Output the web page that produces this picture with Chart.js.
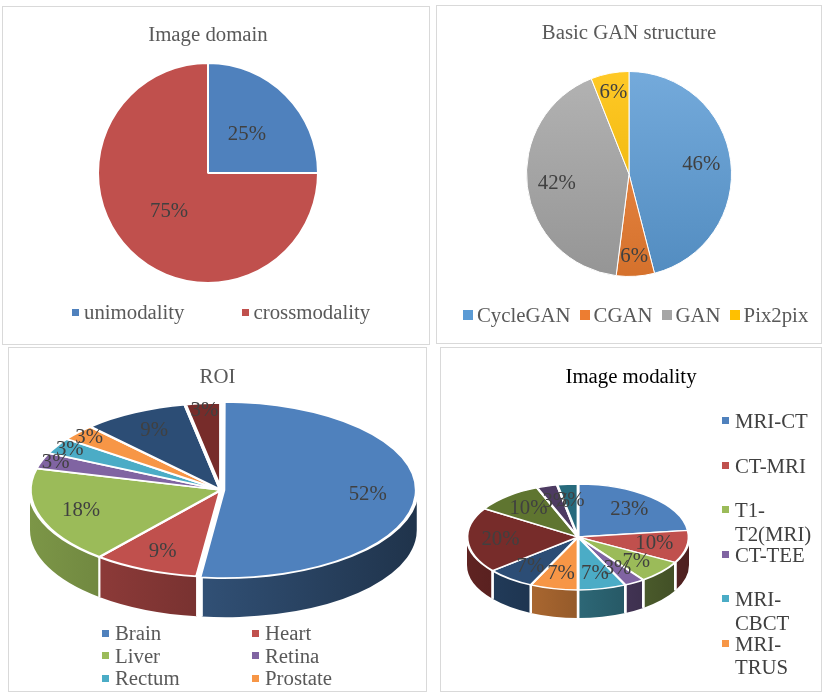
<!DOCTYPE html>
<html>
<head>
<meta charset="utf-8">
<script src="https://cdn.jsdelivr.net/npm/chart.js@4.4.0/dist/chart.umd.min.js"></script>
<style>
  body { margin: 0; background: #fff; width: 829px; height: 698px; position: relative; overflow: hidden;
         font-family: "Liberation Serif", "Times New Roman", serif; }
  .panel { position: absolute; background: #fff; outline: 1.5px solid #d9d9d9; outline-offset: -1.5px; }
  .panel canvas { position: absolute; left: 0; top: 0; }
  .legend { position: absolute; font-size: 20.8px; color: #595959; }
  .item { display: flex; align-items: center; white-space: nowrap; }
  .box { display: inline-block; flex: none; }
  #leg1 { left: 70px; top: 294px; display: flex; gap: 57px; }
  #leg1 .box { width: 7px; height: 7px; margin-right: 5px; }
  #leg2 { left: 27px; top: 298px; display: flex; gap: 9px; }
  #leg2 .box { width: 10px; height: 10px; margin-right: 4px; }
  #leg3 { left: 94px; top: 275px; display: grid; grid-template-columns: 150px 150px; line-height: 22.5px; }
  #leg3 .box { width: 7px; height: 7px; margin-right: 6px; }
  #leg4 { left: 282px; top: 62px; color: #404040; line-height: 23.5px; }
  #leg4 .item { height: 44.5px; align-items: flex-start; white-space: normal; }
  #leg4 .item span:last-child { width: 84px; }
  #leg4 .box { width: 7px; height: 7px; margin-right: 6px; margin-top: 8px; }
</style>
</head>
<body>
<div class="panel" style="left:2px; top:6px; width:428px; height:339px;">
  <canvas id="domain" width="428" height="339"></canvas>
  <div class="legend" id="leg1"></div>
</div>
<div class="panel" style="left:436px; top:5px; width:386px; height:339px;">
  <canvas id="gan" width="386" height="339"></canvas>
  <div class="legend" id="leg2"></div>
</div>
<div class="panel" style="left:8px; top:347px; width:419px; height:345px;">
  <canvas id="roi" width="419" height="345"></canvas>
  <div class="legend" id="leg3"></div>
</div>
<div class="panel" style="left:440px; top:347px; width:382px; height:345px;">
  <canvas id="modality" width="382" height="345"></canvas>
  <div class="legend" id="leg4"></div>
</div>
<script>
  // data (percent)
  const domainLabels = ["unimodality", "crossmodality"];
  const domainValues = [25, 75];

  const ganLabels = ["CycleGAN", "CGAN", "GAN", "Pix2pix"];
  const ganValues = [46, 6, 42, 6];

  // last two slices have no legend entry in the original
  const roiLabels = ["Brain", "Heart", "Liver", "Retina", "Rectum", "Prostate", "Other 1", "Other 2"];
  const roiValues = [52, 9, 18, 3, 3, 3, 9, 3];

  // last five slices have no legend entry in the original
  const modalityLabels = ["MRI-CT", "CT-MRI", "T1-T2(MRI)", "CT-TEE", "MRI-CBCT", "MRI-TRUS",
                          "Other 1", "Other 2", "Other 3", "Other 4", "Other 5"];
  const modalityValues = [23, 10, 7, 3, 7, 7, 7, 20, 10, 3, 3];

  const officeColors = ["#4F81BD", "#C0504D", "#9BBB59", "#8064A2", "#4BACC6", "#F79646",
                        "#2C4D75", "#772C2A", "#5F7530", "#4D3B62", "#276A7C"];
  const ganColors = ["#5B9BD5", "#ED7D31", "#A5A5A5", "#FFC000"];
  const serif = "Liberation Serif";
  const fontSize = 20.8;

  function rgb(hex) {
    const n = parseInt(hex.slice(1), 16);
    return [(n >> 16) & 255, (n >> 8) & 255, n & 255];
  }
  function shade(hex, f) {
    const c = rgb(hex).map(v => Math.round(v * f));
    return "rgb(" + c.join(",") + ")";
  }
  function tint(hex, f) {
    const c = rgb(hex).map(v => Math.round(v + (255 - v) * f));
    return "rgb(" + c.join(",") + ")";
  }

  // flattens the pie into an ellipse and adds the side walls
  const pie3d = {
    id: "pie3d",
    beforeDatasetsDraw(chart, args, o) {
      const ctx = chart.ctx;
      const meta = chart.getDatasetMeta(0);
      const first = meta.data[0];
      const R = first.outerRadius;
      const sx = o.rx / R, sy = o.ry / R;
      const colors = chart.data.datasets[0].backgroundColor;
      meta.data.forEach((arc, i) => {
        const s = arc.startAngle, e = arc.endAngle;
        const a1 = Math.max(s, 0), a2 = Math.min(e, Math.PI);
        if (a2 <= a1) return;
        const mid = (s + e) / 2;
        const off = (arc.options.offset || 0) / 4 * (2 - Math.sin(Math.min(Math.PI, e - s)));
        const cx = o.cx + Math.cos(mid) * off * sx;
        const cy = o.cy + Math.sin(mid) * off * sy;
        const g = ctx.createLinearGradient(o.cx - o.rx, 0, o.cx + o.rx, 0);
        g.addColorStop(0, shade(colors[i], o.light));
        g.addColorStop(1, shade(colors[i], o.dark));
        ctx.beginPath();
        ctx.ellipse(cx, cy, o.rx, o.ry, 0, a1, a2);
        ctx.ellipse(cx, cy + o.depth, o.rx, o.ry, 0, a2, a1, true);
        ctx.closePath();
        ctx.fillStyle = g;
        ctx.fill();
        ctx.strokeStyle = "#fff";
        ctx.lineWidth = o.seam;
        [[a1, s], [a2, e]].forEach(([a, edge]) => {
          if (a !== edge) return;
          const x = cx + Math.cos(a) * o.rx, y = cy + Math.sin(a) * o.ry;
          ctx.beginPath();
          ctx.moveTo(x, y);
          ctx.lineTo(x, y + o.depth);
          ctx.stroke();
        });
      });
      ctx.save();
      ctx.translate(o.cx, o.cy);
      ctx.scale(sx, sy);
      ctx.translate(-first.x, -first.y);
    },
    afterDatasetsDraw(chart) {
      chart.ctx.restore();
    }
  };

  // percentage labels inside the slices
  const pctLabels = {
    id: "pctLabels",
    afterDraw(chart, args, o) {
      const ctx = chart.ctx;
      const values = chart.data.datasets[0].data;
      const total = values.reduce((a, b) => a + b, 0);
      ctx.save();
      ctx.font = fontSize + "px '" + serif + "'";
      ctx.fillStyle = "#404040";
      ctx.textAlign = "center";
      ctx.textBaseline = "middle";
      chart.getDatasetMeta(0).data.forEach((arc, i) => {
        const share = values[i] / total;
        const f = share < o.smallLimit ? o.smallFrac : o.frac;
        const mid = (arc.startAngle + arc.endAngle) / 2;
        let x, y;
        if (o.tilt) {
          x = o.tilt.cx + Math.cos(mid) * f * o.tilt.rx;
          y = o.tilt.cy + Math.sin(mid) * f * o.tilt.ry;
        } else {
          x = arc.x + Math.cos(mid) * f * arc.outerRadius;
          y = arc.y + Math.sin(mid) * f * arc.outerRadius;
        }
        ctx.fillText(Math.round(share * 100) + "%", x, y);
      });
      ctx.restore();
    }
  };

  function titleOpts(text, color, top, bottom) {
    return {
      display: true, text: text, color: color,
      font: { family: serif, size: fontSize, weight: "normal" },
      padding: { top: top, bottom: bottom }
    };
  }

  function buildLegend(id, labels, colors, count) {
    const el = document.getElementById(id);
    labels.slice(0, count).forEach((name, i) => {
      const item = document.createElement("div");
      item.className = "item";
      const box = document.createElement("span");
      box.className = "box";
      box.style.background = colors[i];
      const text = document.createElement("span");
      text.textContent = name;
      item.append(box, text);
      el.append(item);
    });
  }

  const common = { responsive: false, animation: false, events: [] };

  new Chart("domain", {
    type: "pie",
    data: {
      labels: domainLabels,
      datasets: [{ data: domainValues, backgroundColor: officeColors.slice(0, 2),
                   borderColor: "#fff", borderWidth: 2, radius: 110 }]
    },
    options: Object.assign({}, common, {
      layout: { padding: { right: 16, bottom: 62 } },
      plugins: {
        legend: { display: false }, tooltip: { enabled: false },
        title: titleOpts("Image domain", "#595959", 17, 15),
        pctLabels: { frac: 0.5, smallFrac: 0.5, smallLimit: 0 }
      }
    }),
    plugins: [pctLabels]
  });

  function ganFill(c) {
    const col = ganColors[c.dataIndex];
    const area = c.chart.chartArea;
    if (!area) return col;
    const g = c.chart.ctx.createLinearGradient(0, area.top, 0, area.bottom);
    g.addColorStop(0, tint(col, 0.15));
    g.addColorStop(1, shade(col, 0.9));
    return g;
  }

  new Chart("gan", {
    type: "pie",
    data: {
      labels: ganLabels,
      datasets: [{ data: ganValues, backgroundColor: ganFill,
                   borderColor: "#fff", borderWidth: 1, radius: 102.5 }]
    },
    options: Object.assign({}, common, {
      layout: { padding: { bottom: 67 } },
      plugins: {
        legend: { display: false }, tooltip: { enabled: false },
        title: titleOpts("Basic GAN structure", "#595959", 16, 25),
        pctLabels: { frac: 0.71, smallFrac: 0.81, smallLimit: 0.1 }
      }
    }),
    plugins: [pctLabels]
  });

  const roiTilt = { cx: 213, cy: 143, rx: 191, ry: 87, depth: 40, light: 0.8, dark: 0.4, seam: 2 };
  new Chart("roi", {
    type: "pie",
    data: {
      labels: roiLabels,
      datasets: [{ data: roiValues, backgroundColor: officeColors.slice(0, roiValues.length),
                   borderColor: "#fff", borderWidth: 2, radius: 100, clip: false,
                   offset: roiValues.map((v, i) => i === 0 ? 5 : 0) }]
    },
    options: Object.assign({}, common, {
      layout: { padding: { bottom: 80 } },
      plugins: {
        legend: { display: false }, tooltip: { enabled: false },
        title: titleOpts("ROI", "#595959", 18, 18),
        pie3d: roiTilt,
        pctLabels: { frac: 0.77, smallFrac: 0.92, smallLimit: 0.05, tilt: roiTilt }
      }
    }),
    plugins: [pie3d, pctLabels]
  });

  const modTilt = { cx: 138, cy: 190, rx: 111, ry: 53, depth: 28, light: 0.8, dark: 0.4, seam: 2.5 };
  new Chart("modality", {
    type: "pie",
    data: {
      labels: modalityLabels,
      datasets: [{ data: modalityValues, backgroundColor: officeColors.slice(0, modalityValues.length),
                   borderColor: "#fff", borderWidth: 2.5, radius: 100, clip: false }]
    },
    options: Object.assign({}, common, {
      layout: { padding: { bottom: 80 } },
      plugins: {
        legend: { display: false }, tooltip: { enabled: false },
        title: titleOpts("Image modality", "#000", 18, 18),
        pie3d: modTilt,
        pctLabels: { frac: 0.7, smallFrac: 0.7, smallLimit: 0, tilt: modTilt }
      }
    }),
    plugins: [pie3d, pctLabels]
  });

  buildLegend("leg1", domainLabels, officeColors, 2);
  buildLegend("leg2", ganLabels, ganColors, 4);
  buildLegend("leg3", roiLabels, officeColors, 6);
  buildLegend("leg4", modalityLabels, officeColors, 6);
</script>
</body>
</html>
